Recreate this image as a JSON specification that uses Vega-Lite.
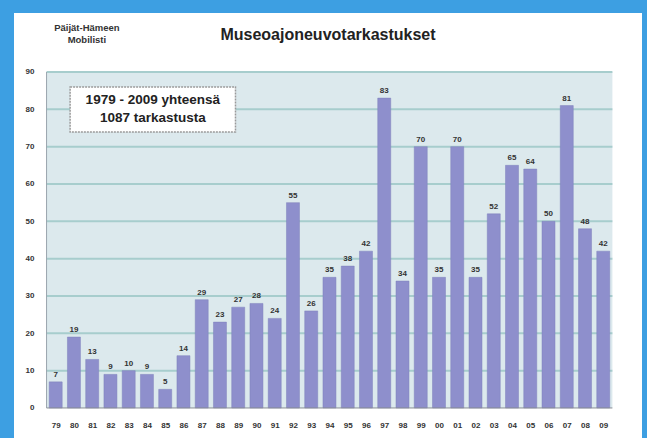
{
  "$schema": "https://vega.github.io/schema/vega-lite/v6.json",
  "width": 628,
  "height": 425,
  "autosize": {"type": "none"},
  "padding": {"left": 14, "top": 13, "right": 5, "bottom": 0},
  "background": "#3d9fe2",
  "config": {
    "view": {"fill": "white", "stroke": null},
    "font": "Liberation Sans"
  },
  "title": {
    "text": "Museoajoneuvotarkastukset",
    "anchor": "middle",
    "offset": -30,
    "fontSize": 16,
    "fontWeight": "bold",
    "font": "Liberation Sans",
    "color": "#222222"
  },
  "datasets": {
    "inspections": [
      {"year": 1979, "n": 7}, {"year": 1980, "n": 19}, {"year": 1981, "n": 13},
      {"year": 1982, "n": 9}, {"year": 1983, "n": 10}, {"year": 1984, "n": 9},
      {"year": 1985, "n": 5}, {"year": 1986, "n": 14}, {"year": 1987, "n": 29},
      {"year": 1988, "n": 23}, {"year": 1989, "n": 27}, {"year": 1990, "n": 28},
      {"year": 1991, "n": 24}, {"year": 1992, "n": 55}, {"year": 1993, "n": 26},
      {"year": 1994, "n": 35}, {"year": 1995, "n": 38}, {"year": 1996, "n": 42},
      {"year": 1997, "n": 83}, {"year": 1998, "n": 34}, {"year": 1999, "n": 70},
      {"year": 2000, "n": 35}, {"year": 2001, "n": 70}, {"year": 2002, "n": 35},
      {"year": 2003, "n": 52}, {"year": 2004, "n": 65}, {"year": 2005, "n": 64},
      {"year": 2006, "n": 50}, {"year": 2007, "n": 81}, {"year": 2008, "n": 48},
      {"year": 2009, "n": 42}
    ],
    "grid": [
      {"v": 10}, {"v": 20}, {"v": 30}, {"v": 40}, {"v": 50},
      {"v": 60}, {"v": 70}, {"v": 80}, {"v": 90}
    ],
    "one": [{"k": 1}]
  },
  "layer": [
    {
      "data": {"name": "one"},
      "mark": {"type": "rect", "color": "#dce9ed"},
      "encoding": {
        "x": {"datum": 1978.5, "type": "quantitative", "scale": {"domain": [1976.99, 2010.848], "nice": false, "zero": false},
          "axis": {"values": [1979,1980,1981,1982,1983,1984,1985,1986,1987,1988,1989,1990,1991,1992,1993,1994,1995,1996,1997,1998,1999,2000,2001,2002,2003,2004,2005,2006,2007,2008,2009],
            "tickCount": 60, "labelExpr": "slice(toString(datum.value), 2)", "title": null, "grid": false, "domain": false, "ticks": false, "tickSize": 0,
            "offset": -30, "labelPadding": 13, "labelFontSize": 8, "labelFontWeight": "bold", "labelColor": "#333333", "labelFlush": false, "labelOverlap": false}},
        "x2": {"datum": 2009.5},
        "y": {"datum": 0, "type": "quantitative", "scale": {"domain": [-8.04, 105.8], "nice": false, "zero": false},
          "axis": {"values": [0,10,20,30,40,50,60,70,80,90], "tickCount": 20, "title": null, "grid": false, "domain": false, "ticks": false, "tickSize": 0,
            "offset": -20, "labelPadding": 0, "labelFontSize": 8, "labelFontWeight": "bold", "labelColor": "#333333", "labelFlush": false}},
        "y2": {"datum": 90}
      }
    },
    {
      "data": {"name": "grid"},
      "mark": {"type": "rule", "color": "#a7cdcd", "strokeWidth": 2},
      "encoding": {
        "x": {"datum": 1978.5, "type": "quantitative"},
        "x2": {"datum": 2009.5},
        "y": {"field": "v", "type": "quantitative"}
      }
    },
    {
      "data": {"name": "one"},
      "mark": {"type": "rule", "color": "#9aa4ae", "strokeWidth": 1},
      "encoding": {
        "x": {"datum": 1978.5, "type": "quantitative"},
        "y": {"datum": 0, "type": "quantitative"},
        "y2": {"datum": 90}
      }
    },
    {
      "data": {"name": "inspections"},
      "mark": {"type": "bar", "width": 13, "color": "#8e8fcc", "stroke": "#7f80bd", "strokeWidth": 0.5},
      "encoding": {
        "x": {"field": "year", "type": "quantitative"},
        "y": {"field": "n", "type": "quantitative"}
      }
    },
    {
      "data": {"name": "one"},
      "mark": {"type": "rule", "color": "#8a8f96", "strokeWidth": 1},
      "encoding": {
        "x": {"datum": 1978.5, "type": "quantitative"},
        "x2": {"datum": 2009.5},
        "y": {"datum": 0, "type": "quantitative"}
      }
    },
    {
      "data": {"name": "inspections"},
      "mark": {"type": "text", "dy": -7, "fontSize": 8, "fontWeight": "bold", "color": "#333333"},
      "encoding": {
        "x": {"field": "year", "type": "quantitative"},
        "y": {"field": "n", "type": "quantitative"},
        "text": {"field": "n", "type": "quantitative"}
      }
    },
    {
      "data": {"name": "one"},
      "mark": {"type": "rect", "fill": "white", "stroke": "#9a9a9a", "strokeWidth": 1.5, "strokeDash": [2, 1]},
      "encoding": {
        "x": {"datum": 1979.79, "type": "quantitative"},
        "x2": {"datum": 1988.85},
        "y": {"datum": 85.98, "type": "quantitative"},
        "y2": {"datum": 73.92}
      }
    },
    {
      "data": {"name": "one"},
      "mark": {"type": "text", "fontSize": 13.5, "fontWeight": "bold", "color": "#222222", "lineHeight": 18, "baseline": "middle"},
      "encoding": {
        "x": {"datum": 1984.32, "type": "quantitative"},
        "y": {"datum": 82.5, "type": "quantitative"},
        "text": {"value": ["1979 - 2009 yhteensä", "1087 tarkastusta"]}
      }
    },
    {
      "data": {"name": "one"},
      "mark": {"type": "text", "fontSize": 9.5, "fontWeight": "bold", "color": "#333333", "lineHeight": 12, "baseline": "middle"},
      "encoding": {
        "x": {"datum": 1980.71, "type": "quantitative"},
        "y": {"datum": 101.78, "type": "quantitative"},
        "text": {"value": ["Päijät-Hämeen", "Mobilisti"]}
      }
    }
  ]
}
